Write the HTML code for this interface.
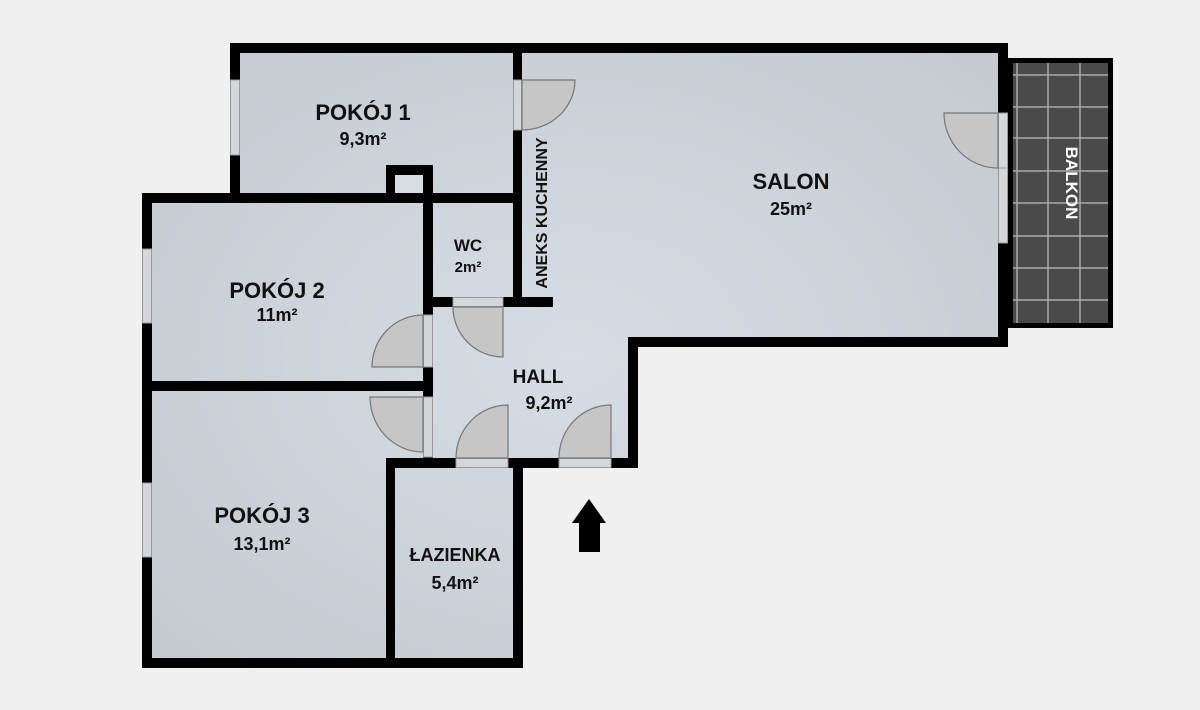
<!DOCTYPE html>
<html><head><meta charset="utf-8"><style>
html,body{margin:0;padding:0;background:#f0f0f0;}
svg{display:block}
text{font-family:"Liberation Sans",sans-serif;font-weight:bold;fill:#111;text-anchor:middle}
</style></head><body>
<svg width="1200" height="710" viewBox="0 0 1200 710" xmlns="http://www.w3.org/2000/svg">
<defs>
<radialGradient id="fl" cx="50%" cy="50%" r="70%">
<stop offset="0" stop-color="#d6dde4"/><stop offset="1" stop-color="#c3c9cf"/>
</radialGradient>
</defs>
<rect width="1200" height="710" fill="#f0f0f0"/>
<rect x="1008" y="58" width="105" height="270" fill="#000"/>
<rect x="1013" y="63" width="95" height="260" fill="#4a4a4a"/>
<g stroke="#aaa" stroke-width="1.5">
<line x1="1017" y1="63" x2="1017" y2="323"/><line x1="1048" y1="63" x2="1048" y2="323"/><line x1="1080" y1="63" x2="1080" y2="323"/>
<line x1="1013" y1="75" x2="1108" y2="75"/><line x1="1013" y1="107" x2="1108" y2="107"/><line x1="1013" y1="138" x2="1108" y2="138"/><line x1="1013" y1="171" x2="1108" y2="171"/><line x1="1013" y1="203" x2="1108" y2="203"/><line x1="1013" y1="236" x2="1108" y2="236"/><line x1="1013" y1="268" x2="1108" y2="268"/><line x1="1013" y1="300" x2="1108" y2="300"/>
</g>
<polygon points="142,193 230,193 230,43 1008,43 1008,347 638,347 638,468 523,468 523,668 142,668" fill="url(#fl)"/>
<g fill="#000">
<rect x="230" y="43" width="778" height="10"/>
<rect x="230" y="43" width="10" height="160"/>
<rect x="142" y="193" width="380" height="10"/>
<rect x="142" y="193" width="10" height="475"/>
<rect x="142" y="658" width="381" height="10"/>
<rect x="513" y="458" width="10" height="210"/>
<rect x="386" y="458" width="252" height="10"/>
<rect x="628" y="337" width="10" height="131"/>
<rect x="628" y="337" width="380" height="10"/>
<rect x="998" y="43" width="10" height="304"/>
<rect x="513" y="43" width="9" height="264"/>
<rect x="433" y="297" width="120" height="10"/>
<rect x="423" y="193" width="10" height="275"/>
<rect x="142" y="381" width="291" height="10"/>
<rect x="386" y="458" width="9" height="210"/>
<rect x="386" y="165" width="47" height="38"/>
</g>
<rect x="395" y="175" width="28" height="18" fill="#d8dde2"/>
<g fill="#d4d7da" stroke="#999" stroke-width="1">
<rect x="230.5" y="80" width="9" height="75"/>
<rect x="142.5" y="249" width="9" height="74"/>
<rect x="142.5" y="483" width="9" height="74"/>
<rect x="998.5" y="168" width="9" height="75"/>
<rect x="513.5" y="80" width="8" height="50"/>
<rect x="453" y="297.5" width="50" height="9"/>
<rect x="423.5" y="315" width="9" height="52"/>
<rect x="423.5" y="397" width="9" height="60"/>
<rect x="456" y="458.5" width="52" height="9"/>
<rect x="559" y="458.5" width="52" height="9"/>
<rect x="998.5" y="113" width="9" height="55"/>
</g>
<g fill="#c6c6c6" stroke="#777" stroke-width="1.2">
<path d="M522,80 L575,80 A53,50 0 0 1 522,130 Z"/>
<path d="M503,307 L503,357 A50,50 0 0 1 453,307 Z"/>
<path d="M423,315 L423,367 L372,367 A51,52 0 0 1 423,315 Z"/>
<path d="M423,397 L370,397 A53,55 0 0 0 423,452 Z"/>
<path d="M508,458 L508,405 A52,53 0 0 0 456,458 Z"/>
<path d="M611,458 L611,405 A52,53 0 0 0 559,458 Z"/>
<path d="M998,113 L944,113 A54,55 0 0 0 998,168 Z"/>
</g>
<polygon points="589,499 606,523 600,523 600,552 579,552 579,523 572,523" fill="#000"/>
<text x="363" y="120" font-size="22">POKÓJ 1</text>
<text x="363" y="145" font-size="18">9,3m²</text>
<text x="791" y="189" font-size="22">SALON</text>
<text x="791" y="215" font-size="18">25m²</text>
<text x="468" y="251" font-size="17">WC</text>
<text x="468" y="272" font-size="15">2m²</text>
<text x="277" y="298" font-size="22">POKÓJ 2</text>
<text x="277" y="321" font-size="18">11m²</text>
<text x="538" y="383" font-size="19">HALL</text>
<text x="549" y="409" font-size="18">9,2m²</text>
<text x="262" y="523" font-size="22">POKÓJ 3</text>
<text x="262" y="550" font-size="18">13,1m²</text>
<text x="455" y="561" font-size="18">ŁAZIENKA</text>
<text x="455" y="589" font-size="18">5,4m²</text>
<text x="0" y="0" font-size="16" transform="translate(547,213) rotate(-90)">ANEKS KUCHENNY</text>
<text x="0" y="0" font-size="17" style="fill:#fff" transform="translate(1066,183) rotate(90)">BALKON</text>
</svg>
</body></html>
